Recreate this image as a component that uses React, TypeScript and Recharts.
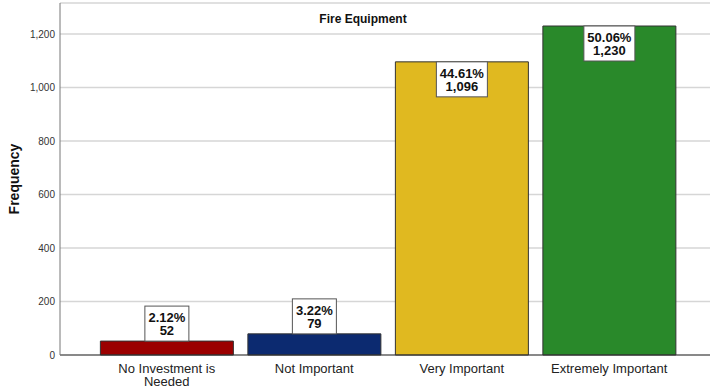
import React from 'react';
import { BarChart, Bar, XAxis, YAxis, CartesianGrid, Cell, LabelList, Text } from 'recharts';

const categories = ['No Investment is Needed', 'Not Important', 'Very Important', 'Extremely Important'];
const frequencies = [52, 79, 1096, 1230];
const percents = ['2.12%', '3.22%', '44.61%', '50.06%'];
const barColors = ['#9b0000', '#0c2a70', '#e0b920', '#29892a'];
const yTicks = [0, 200, 400, 600, 800, 1000, 1200];

const data = categories.map((name, i) => ({ name, freq: frequencies[i], pct: percents[i] }));

const fmt = (v: number) => v.toLocaleString('en-US');

// white value box: above short bars, inside the top of tall ones
const BoxLabel = (props: any) => {
  const { x, y, width, height, index } = props;
  const pct = percents[index];
  const cnt = fmt(frequencies[index]);
  const w = Math.max(pct.length, cnt.length) * 7 + 9;
  const h = 35;
  const cx = x + width / 2;
  const top = height < h + 5 ? y - h : y;
  return (
    <g>
      <rect x={cx - w / 2} y={top} width={w} height={h} fill="#fff" stroke="#555" strokeWidth={1} />
      <text x={cx} y={top + 16} textAnchor="middle" fontSize={13} fontWeight="bold" fill="#111">{pct}</text>
      <text x={cx} y={top + 29} textAnchor="middle" fontSize={13} fontWeight="bold" fill="#111">{cnt}</text>
    </g>
  );
};

const CatTick = (props: any) => {
  const { x, y, payload } = props;
  return (
    <Text
      x={x}
      y={y}
      width={135}
      textAnchor="middle"
      verticalAnchor="start"
      style={{ fontSize: 13 }}
      fontSize={13}
      fill="#222"
    >
      {payload.value}
    </Text>
  );
};

export default function App() {
  return (
    <div style={{ position: 'absolute', left: 0, top: 0, background: '#fff', fontFamily: 'Arial, "Liberation Sans", sans-serif' }}>
      <BarChart
        width={710}
        height={389}
        data={data}
        margin={{ top: 3, right: 0, bottom: 4, left: 0 }}
        barCategoryGap="5%"
      >
        <CartesianGrid vertical={false} stroke="#d6d6d6" strokeWidth={1.5} />
        <XAxis
          dataKey="name"
          height={30}
          tick={<CatTick />}
          tickLine={false}
          tickSize={8}
          tickMargin={1}
          interval={0}
          stroke="#333"
          padding={{ left: 33, right: 27 }}
        />
        <YAxis
          width={60}
          domain={[0, 1316]}
          ticks={yTicks}
          tickFormatter={fmt}
          tickLine={false}
          tickSize={3}
          tickMargin={2}
          stroke="#777"
          tick={{ fontSize: 10, fill: '#333' }}
          label={{
            value: 'Frequency',
            angle: -90,
            position: 'insideLeft',
            offset: 14,
            style: { textAnchor: 'middle', fontSize: 14, fontWeight: 'bold', fill: '#111' },
          }}
        />
        <Bar dataKey="freq" stroke="#333" strokeWidth={1} isAnimationActive={false}>
          {data.map((d, i) => (
            <Cell key={d.name} fill={barColors[i]} />
          ))}
          <LabelList dataKey="freq" content={<BoxLabel />} />
        </Bar>
        <text x={363} y={23} textAnchor="middle" fontSize={12} fontWeight="bold" fill="#111">
          Fire Equipment
        </text>
      </BarChart>
    </div>
  );
}
